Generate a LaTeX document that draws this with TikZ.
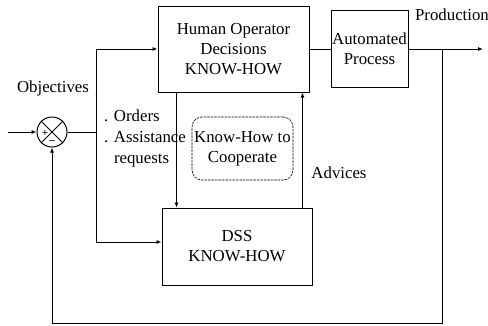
\documentclass[tikz,border=0pt]{standalone}
\usepackage{fontspec}
\setmainfont{Liberation Serif}
\usetikzlibrary{arrows.meta,positioning}
\tikzset{
    block/.style = {draw, line width=1pt, align=center, inner sep=0pt, font=\fontsize{16.8}{20}\selectfont},
    coopbox/.style = {draw, line width=0.6pt, dash pattern=on 2.5pt off 1pt, rounded corners=10pt, align=center, inner sep=0pt, font=\fontsize{16.8}{20}\selectfont},
    sig/.style = {-{Latex[length=5pt,width=4pt]}, line width=0.9pt},
    wire/.style = {line width=0.9pt},
    lbl/.style = {align=left, inner sep=0pt, font=\fontsize{16.8}{21}\selectfont},
    sign/.style = {inner sep=0pt, font=\fontsize{11}{12}\selectfont\bfseries}
}

\begin{document}
\begin{tikzpicture}[x=1pt,y=-1pt, line join=miter]
	\useasboundingbox (0,0) rectangle (488,325);
	% blocks
	\node[block, minimum width=151pt, minimum height=86pt] (human) at (233.5,49) {Human Operator\\Decisions\\KNOW-HOW};
	\node[block, minimum width=77pt, minimum height=77pt] (auto) at (369.5,48.5) {Automated\\Process};
	\node[block, minimum width=150pt, minimum height=77pt] (dss) at (237,246.5) {DSS\\KNOW-HOW};
	\node[coopbox, minimum width=101pt, minimum height=63pt] (coop) at (242.5,148.5) {Know-How to\\Cooperate};
	% comparator
	\node[circle, draw, line width=1pt, minimum size=30pt, inner sep=0pt] (sum) at (52,132) {};
	\draw[line width=0.9pt] (sum.north west) -- (sum.south east);
	\draw[line width=0.9pt] (sum.north east) -- (sum.south west);
	\node[sign] (plus) at (45,133) {+};
	\node[sign] (minus) at (52,142) {--};
	% labels
	\node[lbl] (objectives) at (53,88) {Objectives};
	\node[lbl] (production) at (452,15) {Production};
	\node[lbl] (advices) at (339,173) {Advices};
	\node[lbl, anchor=west] (orders) at (104,138) {. Orders\\. Assistance\\\phantom{. }requests};
	% signal lines
	\coordinate (in) at (8,132);
	\coordinate (split) at (96,132);
	\coordinate (tap) at (442,49);
	\coordinate (out) at (483,49);
	\coordinate (back) at (442,323);
	\draw[sig] (in) -- (sum);
	\draw[wire] (sum) -- (split);
	\draw[sig] (split) |- (human);
	\draw[sig] (split) |- ([yshift=4.5pt]dss.west);
	\draw[wire] (human.east) -- (human.east -| auto.west);
	\draw[sig] (auto.east |- out) -- (out);
	\draw[sig] (tap) -- (back) -| (sum.south);
	\draw[sig, line width=0.7pt] ([xshift=19pt]human.south west) -- ([xshift=15pt]dss.north west);
	\draw[sig, line width=0.7pt] ([xshift=-10pt]dss.north east) -- ([xshift=-7pt]human.south east);
\end{tikzpicture}
\end{document}
